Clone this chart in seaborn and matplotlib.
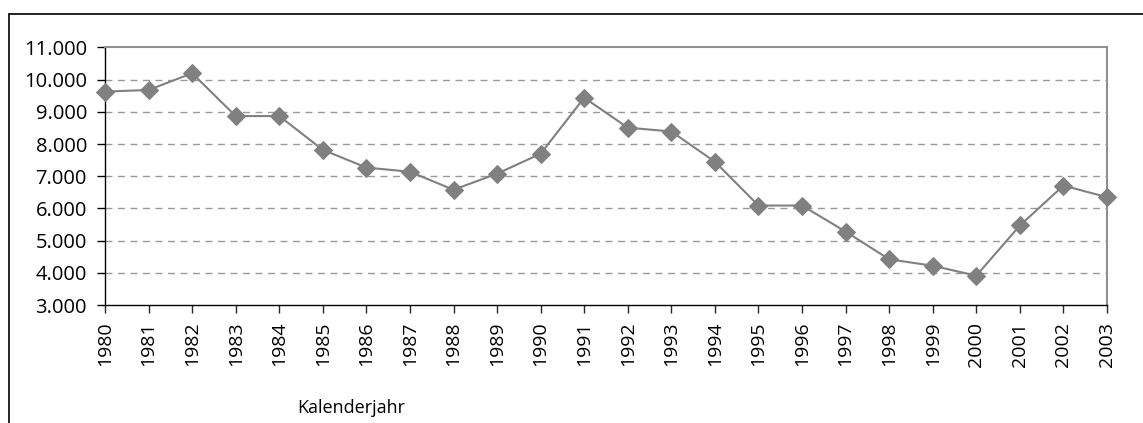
import matplotlib
matplotlib.use("Agg")
import matplotlib.pyplot as plt
from matplotlib.lines import Line2D
from matplotlib.ticker import FuncFormatter
import seaborn as sns
import pandas as pd

years = [str(y) for y in range(1980, 2004)]
values = [9630, 9680, 10200, 8870, 8870, 7820, 7270, 7140, 6580, 7080, 7700, 9440,
          8510, 8390, 7450, 6090, 6090, 5280, 4420, 4220, 3910, 5470, 6710, 6350]
y_ticks = [3000, 4000, 5000, 6000, 7000, 8000, 9000, 10000, 11000]
x_title = "Kalenderjahr"

sns.set_theme(style="white")
plt.rcParams["font.family"] = ["Open Sans", "DejaVu Sans"]

W, H = 1143, 423
fig = plt.figure(figsize=(W / 100, H / 100), dpi=100)
ax = fig.add_axes([105 / W, 1 - 305 / H, (1107 - 105) / W, (305 - 47.5) / H])

df = pd.DataFrame({"Jahr": range(len(years)), "Wert": values})
sns.lineplot(data=df, x="Jahr", y="Wert", ax=ax, color="#808080", linewidth=1.5,
             marker="D", markersize=9, markeredgecolor="#808080",
             markerfacecolor="#808080", clip_on=False, zorder=5)

ax.set_xlim(0, len(years) - 1)
ax.set_ylim(y_ticks[0], y_ticks[-1])
ax.set_xticks(range(len(years)))
ax.set_xticklabels(years, rotation=90, fontsize=14, color="black")
ax.set_yticks(y_ticks)
ax.yaxis.set_major_formatter(FuncFormatter(lambda v, p: f"{int(v):,}".replace(",", ".")))
ax.tick_params(axis="y", labelsize=14.5, colors="black", direction="out", length=6,
               width=1, left=True, pad=7)
ax.tick_params(axis="x", direction="out", length=6, width=1, bottom=True, pad=6)
ax.set_xlabel("")
ax.set_ylabel("")

for v in y_ticks[1:-1]:
    ax.axhline(v, color="#999999", linestyle=(0, (5, 4)), linewidth=1, zorder=1)

for side in ["left", "bottom"]:
    ax.spines[side].set_color("black")
    ax.spines[side].set_linewidth(1)
for side in ["top", "right"]:
    ax.spines[side].set_color("#909090")
    ax.spines[side].set_linewidth(1.5)

fig.text(351 / W, 1 - 408 / H, x_title, ha="center", va="center", fontsize=13,
         color="black")

# outer chart frame (left and top edges)
fig.add_artist(Line2D([9 / W, 9 / W], [0, 1 - 13.7 / H], transform=fig.transFigure,
                      color="black", linewidth=1.2))
fig.add_artist(Line2D([9 / W, 1], [1 - 13.7 / H, 1 - 13.7 / H], transform=fig.transFigure,
                      color="black", linewidth=1.2))

fig.savefig("out.png", dpi=100, facecolor="white")
